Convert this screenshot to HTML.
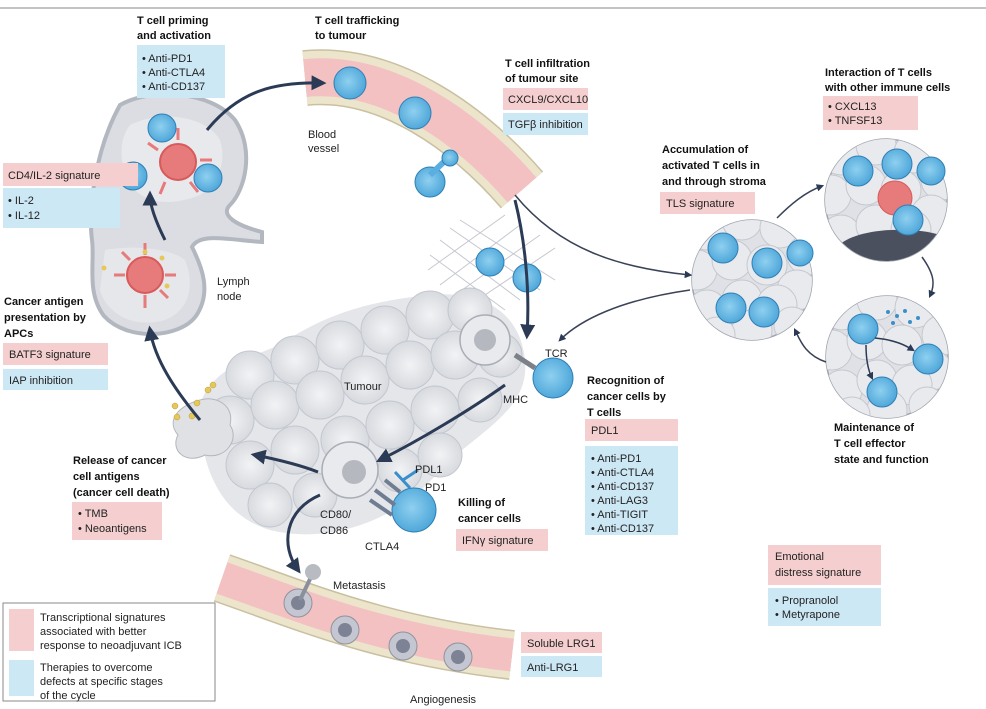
<!DOCTYPE html>
<html><head><meta charset="utf-8"><style>
html,body{margin:0;padding:0;background:#fff;}
svg{display:block;}
text{font-family:"Liberation Sans",sans-serif;font-size:11px;fill:#222;}
.b{font-weight:bold;fill:#111;}
</style></head><body>
<svg width="986" height="709" viewBox="0 0 986 709" xmlns="http://www.w3.org/2000/svg">
<defs>
<marker id="ar" viewBox="0 0 10 10" refX="7" refY="5" markerWidth="5" markerHeight="5" orient="auto"><path d="M0,0 L10,5 L0,10 z" fill="#2b3a55"/></marker>
<radialGradient id="tc" cx="0.45" cy="0.45" r="0.6"><stop offset="0" stop-color="#8fd0f0"/><stop offset="1" stop-color="#4aa4d8"/></radialGradient>
<radialGradient id="gc" cx="0.5" cy="0.5" r="0.6"><stop offset="0" stop-color="#f2f3f5"/><stop offset="1" stop-color="#d2d5da"/></radialGradient>
<clipPath id="c1"><circle cx="752" cy="280" r="60"/></clipPath>
<clipPath id="c2"><circle cx="886" cy="200" r="61"/></clipPath>
<clipPath id="c3"><circle cx="887" cy="357" r="61"/></clipPath>
<g id="cells" fill="#e9eaee" stroke="#c5c8ce" stroke-width="1">
<circle cx="-45" cy="-40" r="20"/><circle cx="-10" cy="-50" r="20"/><circle cx="28" cy="-42" r="20"/><circle cx="55" cy="-15" r="20"/>
<circle cx="-55" cy="0" r="20"/><circle cx="-20" cy="-10" r="20"/><circle cx="15" cy="-5" r="20"/><circle cx="45" cy="20" r="20"/>
<circle cx="-45" cy="40" r="20"/><circle cx="-10" cy="30" r="20"/><circle cx="25" cy="35" r="20"/><circle cx="0" cy="60" r="20"/><circle cx="-35" cy="65" r="18"/><circle cx="40" cy="55" r="18"/>
</g>
</defs>
<line x1="0" y1="8" x2="986" y2="8" stroke="#888" stroke-width="1"/>

<!-- lymph node -->
<path d="M120,105 C150,88 210,90 235,120 C255,150 245,190 230,205 C220,215 235,225 262,232 L262,242 C230,240 200,232 192,247 C202,267 212,292 196,316 C180,338 128,342 104,316 C86,292 95,262 92,240 C88,210 95,150 120,105 Z" fill="#dcdde2" stroke="#b3b7c0" stroke-width="4"/>
<path d="M130,125 C160,110 205,115 220,140 C228,165 215,185 200,195 C175,205 150,205 135,190 C118,170 118,140 130,125 Z" fill="#e8e9ed"/>
<path d="M105,250 C130,245 170,248 185,260 C195,285 190,310 165,320 C130,330 105,310 100,290 Z" fill="#e6e7eb"/>
<g fill="#e77a7a" stroke="#d85a5a" stroke-width="2">
<circle cx="178" cy="162" r="18"/><circle cx="145" cy="275" r="18"/>
</g>
<g stroke="#e77a7a" stroke-width="3">
<path d="M178,140 L178,128 M200,160 L212,160 M158,150 L148,143 M190,182 L198,192 M165,182 L160,194 M145,255 L145,243 M165,275 L176,275 M125,275 L114,275 M145,295 L145,308 M130,260 L122,252 M160,290 L168,298"/>
</g>
<circle cx="162" cy="128" r="14" fill="url(#tc)" stroke="#2f7fb5"/>
<circle cx="133" cy="176" r="14" fill="url(#tc)" stroke="#2f7fb5"/>
<circle cx="208" cy="178" r="14" fill="url(#tc)" stroke="#2f7fb5"/>
<circle cx="178" cy="162" r="12" fill="#e77a7a"/>
<g fill="#e6c85a"><circle cx="145" cy="252" r="2.5"/><circle cx="162" cy="258" r="2.5"/><circle cx="104" cy="268" r="2.5"/><circle cx="167" cy="286" r="2.5"/></g>

<!-- blood vessel top -->
<path d="M305,78 C390,70 470,130 522,190" fill="none" stroke="#c9c0a0" stroke-width="56"/>
<path d="M305,78 C390,70 470,130 522,190" fill="none" stroke="#ece5cc" stroke-width="53"/>
<path d="M305,78 C390,70 470,130 522,190" fill="none" stroke="#f3c1c1" stroke-width="38"/>
<circle cx="350" cy="83" r="16" fill="url(#tc)" stroke="#2f7fb5"/>
<circle cx="415" cy="113" r="16" fill="url(#tc)" stroke="#2f7fb5"/>
<circle cx="430" cy="182" r="15" fill="url(#tc)" stroke="#2f7fb5"/>
<path d="M430,175 L448,158" stroke="#5aaee0" stroke-width="6"/>
<circle cx="450" cy="158" r="8" fill="url(#tc)" stroke="#2f7fb5"/>

<!-- mesh -->
<g stroke="#c4c8d0" stroke-width="1">
<path d="M440,240 L520,300 M450,228 L540,290 M430,255 L505,310 M460,220 L555,280 M440,285 L520,225 M455,295 L540,235 M470,305 L555,248 M428,270 L505,215"/>
</g>
<circle cx="490" cy="262" r="14" fill="url(#tc)" stroke="#2f7fb5"/>
<circle cx="527" cy="278" r="14" fill="url(#tc)" stroke="#2f7fb5"/>

<!-- tumour -->
<path d="M200,430 C190,380 240,360 280,345 C330,310 380,300 430,295 C480,290 520,310 525,360 C530,410 480,430 440,470 C400,520 330,545 270,530 C220,515 205,470 200,430 Z" fill="#e4e6ea"/>
<g fill="url(#gc)" stroke="#c3c7ce" stroke-width="1">
<circle cx="250" cy="375" r="24"/><circle cx="295" cy="360" r="24"/><circle cx="340" cy="345" r="24"/><circle cx="385" cy="330" r="24"/><circle cx="430" cy="315" r="24"/><circle cx="470" cy="310" r="22"/>
<circle cx="230" cy="420" r="24"/><circle cx="275" cy="405" r="24"/><circle cx="320" cy="395" r="24"/><circle cx="365" cy="380" r="24"/><circle cx="410" cy="365" r="24"/><circle cx="455" cy="355" r="24"/><circle cx="500" cy="355" r="22"/>
<circle cx="250" cy="465" r="24"/><circle cx="295" cy="450" r="24"/><circle cx="345" cy="440" r="24"/><circle cx="390" cy="425" r="24"/><circle cx="435" cy="410" r="24"/><circle cx="480" cy="400" r="22"/>
<circle cx="270" cy="505" r="22"/><circle cx="315" cy="495" r="22"/><circle cx="400" cy="470" r="22"/><circle cx="440" cy="455" r="22"/>
</g>
<circle cx="485" cy="340" r="25" fill="#e9eaed" stroke="#a9adb5" stroke-width="1.5"/><circle cx="485" cy="340" r="11" fill="#b5b8be"/>
<circle cx="350" cy="470" r="28" fill="#e9eaed" stroke="#a9adb5" stroke-width="1.5"/><circle cx="354" cy="472" r="12" fill="#b5b8be"/>
<path d="M200,400 C215,395 235,405 230,425 C240,440 225,460 205,455 C185,465 170,450 178,435 C165,420 180,405 200,400 Z" fill="#dfe1e5" stroke="#b3b7be"/>
<g fill="#e6c85a" stroke="#b99b30" stroke-width=".5"><circle cx="197" cy="403" r="3"/><circle cx="192" cy="416" r="3"/><circle cx="177" cy="417" r="3"/><circle cx="175" cy="406" r="3"/><circle cx="208" cy="390" r="3"/><circle cx="213" cy="385" r="3"/></g>
<circle cx="553" cy="378" r="20" fill="url(#tc)" stroke="#2f7fb5"/>
<path d="M515,355 L535,368" stroke="#7c8089" stroke-width="5"/>
<circle cx="414" cy="510" r="22" fill="url(#tc)" stroke="#2f7fb5"/>
<path d="M385,480 L400,492 M375,490 L395,505 M370,500 L392,515" stroke="#6f7d93" stroke-width="4"/>
<path d="M395,472 L410,488 M403,480 L418,470" stroke="#3a8fcb" stroke-width="3"/>

<!-- bottom vessel -->
<path d="M222,578 C300,605 380,640 512,655" fill="none" stroke="#c9c0a0" stroke-width="50"/>
<path d="M222,578 C300,605 380,640 512,655" fill="none" stroke="#ece5cc" stroke-width="47"/>
<path d="M222,578 C300,605 380,640 512,655" fill="none" stroke="#f3c1c1" stroke-width="33"/>
<g fill="#c4c7d2" stroke="#8f939b"><circle cx="298" cy="603" r="14"/><circle cx="345" cy="630" r="14"/><circle cx="403" cy="646" r="14"/><circle cx="458" cy="657" r="14"/></g>
<g fill="#7d8294"><circle cx="298" cy="603" r="7"/><circle cx="345" cy="630" r="7"/><circle cx="403" cy="646" r="7"/><circle cx="458" cy="657" r="7"/></g>
<path d="M300,600 L312,575" stroke="#8a8f9c" stroke-width="4"/>
<circle cx="313" cy="572" r="8" fill="#b8bbc2"/>

<!-- right circles -->
<g stroke="#9ea3ad" stroke-width="1.5">
<circle cx="752" cy="280" r="60" fill="#dfe1e6"/>
<circle cx="886" cy="200" r="61" fill="#dfe1e6"/>
<circle cx="887" cy="357" r="61" fill="#dfe1e6"/>
</g>
<g clip-path="url(#c1)"><use href="#cells" transform="translate(752,270)"/></g>
<g clip-path="url(#c2)"><use href="#cells" transform="translate(886,195)"/>
<path d="M835,250 C850,225 930,225 950,240 L950,270 L835,270 Z" fill="#4a505d"/></g>
<g clip-path="url(#c3)"><use href="#cells" transform="translate(887,350)"/></g>
<circle cx="895" cy="198" r="17" fill="#e77a7a" stroke="#d85a5a"/>
<g fill="url(#tc)" stroke="#2f7fb5">
<circle cx="723" cy="248" r="15"/><circle cx="767" cy="263" r="15"/><circle cx="800" cy="253" r="13"/><circle cx="731" cy="308" r="15"/><circle cx="764" cy="312" r="15"/>
<circle cx="858" cy="171" r="15"/><circle cx="897" cy="164" r="15"/><circle cx="931" cy="171" r="14"/><circle cx="908" cy="220" r="15"/>
<circle cx="863" cy="329" r="15"/><circle cx="928" cy="359" r="15"/><circle cx="882" cy="392" r="15"/>
</g>
<g fill="#3a8fcb"><circle cx="888" cy="312" r="2"/><circle cx="897" cy="316" r="2"/><circle cx="905" cy="311" r="2"/><circle cx="893" cy="323" r="2"/><circle cx="910" cy="322" r="2"/><circle cx="918" cy="318" r="2"/></g>
<g fill="none" stroke="#2b3a55" stroke-width="1.5" marker-end="url(#ar)">
<path d="M875,338 C895,340 905,345 913,350"/><path d="M866,345 C866,360 868,370 872,378"/>
</g>

<!-- arrows -->
<g fill="none" stroke="#2b3a55" stroke-width="3" marker-end="url(#ar)">
<path d="M207,130 C240,90 275,82 322,83"/>
<path d="M165,240 C155,220 150,205 150,195"/>
<path d="M200,420 C175,390 155,360 150,330"/>
<path d="M515,200 C525,240 530,290 527,335"/>
<path d="M505,385 C470,410 420,440 380,460"/>
<path d="M318,472 C300,465 280,460 255,455"/>
<path d="M320,495 C285,510 280,545 298,570"/>
</g>
<g fill="none" stroke="#3a4258" stroke-width="1.5" marker-end="url(#ar)">
<path d="M515,195 C560,250 620,268 690,275"/>
<path d="M690,290 C620,300 580,320 560,340"/>
<path d="M777,218 C790,205 805,192 822,186"/>
<path d="M922,257 C935,275 935,285 930,296"/>
<path d="M826,362 C805,355 800,340 795,330"/>
</g>

<!-- labels: boxes -->
<g>
<rect x="137" y="45" width="88" height="53" fill="#cde8f5"/>
<rect x="503" y="88" width="85" height="22" fill="#f5cfcf"/>
<rect x="503" y="113" width="85" height="22" fill="#cde8f5"/>
<rect x="823" y="96" width="95" height="34" fill="#f5cfcf"/>
<rect x="660" y="192" width="95" height="22" fill="#f5cfcf"/>
<rect x="3" y="163" width="135" height="23" fill="#f5cfcf"/>
<rect x="3" y="188" width="117" height="40" fill="#cde8f5"/>
<rect x="3" y="343" width="105" height="22" fill="#f5cfcf"/>
<rect x="3" y="369" width="105" height="21" fill="#cde8f5"/>
<rect x="585" y="419" width="93" height="22" fill="#f5cfcf"/>
<rect x="585" y="446" width="93" height="89" fill="#cde8f5"/>
<rect x="72" y="502" width="90" height="38" fill="#f5cfcf"/>
<rect x="456" y="529" width="92" height="22" fill="#f5cfcf"/>
<rect x="768" y="545" width="113" height="40" fill="#f5cfcf"/>
<rect x="768" y="588" width="113" height="38" fill="#cde8f5"/>
<rect x="521" y="632" width="81" height="21" fill="#f5cfcf"/>
<rect x="521" y="656" width="81" height="21" fill="#cde8f5"/>
<rect x="3" y="603" width="212" height="98" fill="#fff" stroke="#888"/>
<rect x="9" y="609" width="25" height="42" fill="#f5cfcf"/>
<rect x="9" y="660" width="25" height="36" fill="#cde8f5"/>
</g>

<text class="b" x="137" y="24">T cell priming</text><text class="b" x="137" y="39">and activation</text>
<text x="142" y="62">• Anti-PD1</text><text x="142" y="76">• Anti-CTLA4</text><text x="142" y="90">• Anti-CD137</text>
<text class="b" x="315" y="24">T cell trafficking</text><text class="b" x="315" y="39">to tumour</text>
<text x="308" y="138">Blood</text><text x="308" y="152">vessel</text>
<text class="b" x="505" y="67">T cell infiltration</text><text class="b" x="505" y="82">of tumour site</text>
<text x="508" y="103">CXCL9/CXCL10</text><text x="508" y="128">TGFβ inhibition</text>
<text class="b" x="825" y="76">Interaction of T cells</text><text class="b" x="825" y="91">with other immune cells</text>
<text x="828" y="110">• CXCL13</text><text x="828" y="124">• TNFSF13</text>
<text class="b" x="662" y="153">Accumulation of</text><text class="b" x="662" y="169">activated T cells in</text><text class="b" x="662" y="185">and through stroma</text>
<text x="666" y="207">TLS signature</text>
<text x="8" y="179">CD4/IL-2 signature</text><text x="8" y="204">• IL-2</text><text x="8" y="219">• IL-12</text>
<text x="217" y="285">Lymph</text><text x="217" y="300">node</text>
<text class="b" x="4" y="305">Cancer antigen</text><text class="b" x="4" y="321">presentation by</text><text class="b" x="4" y="337">APCs</text>
<text x="9" y="358">BATF3 signature</text><text x="9" y="384">IAP inhibition</text>
<text x="344" y="390">Tumour</text>
<text x="545" y="357">TCR</text><text x="503" y="403">MHC</text>
<text class="b" x="587" y="384">Recognition of</text><text class="b" x="587" y="400">cancer cells by</text><text class="b" x="587" y="416">T cells</text>
<text x="591" y="434">PDL1</text>
<text x="591" y="462">• Anti-PD1</text><text x="591" y="476">• Anti-CTLA4</text><text x="591" y="490">• Anti-CD137</text><text x="591" y="504">• Anti-LAG3</text><text x="591" y="518">• Anti-TIGIT</text><text x="591" y="532">• Anti-CD137</text>
<text class="b" x="834" y="431">Maintenance of</text><text class="b" x="834" y="447">T cell effector</text><text class="b" x="834" y="463">state and function</text>
<text class="b" x="73" y="464">Release of cancer</text><text class="b" x="73" y="480">cell antigens</text><text class="b" x="73" y="496">(cancer cell death)</text>
<text x="78" y="517">• TMB</text><text x="78" y="532">• Neoantigens</text>
<text x="415" y="473">PDL1</text><text x="425" y="491">PD1</text>
<text x="320" y="518">CD80/</text><text x="320" y="534">CD86</text><text x="365" y="550">CTLA4</text>
<text class="b" x="458" y="506">Killing of</text><text class="b" x="458" y="522">cancer cells</text>
<text x="462" y="544">IFNγ signature</text>
<text x="333" y="589">Metastasis</text>
<text x="775" y="560">Emotional</text><text x="775" y="576">distress signature</text>
<text x="775" y="604">• Propranolol</text><text x="775" y="618">• Metyrapone</text>
<text x="527" y="647">Soluble LRG1</text><text x="527" y="671">Anti-LRG1</text>
<text x="410" y="703">Angiogenesis</text>
<text x="40" y="621">Transcriptional signatures</text><text x="40" y="635">associated with better</text><text x="40" y="649">response to neoadjuvant ICB</text>
<text x="40" y="671">Therapies to overcome</text><text x="40" y="685">defects at specific stages</text><text x="40" y="699">of the cycle</text>
</svg>
</body></html>
